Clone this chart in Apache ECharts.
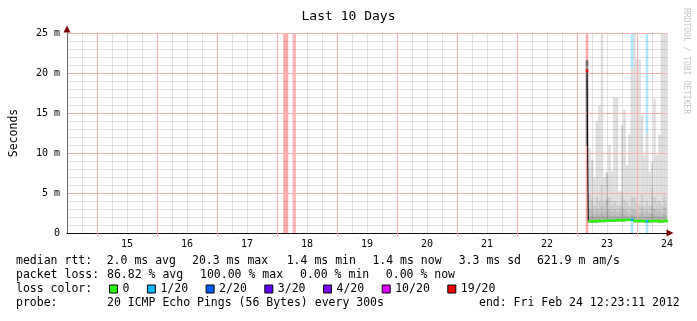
<!DOCTYPE html>
<html><head><meta charset="utf-8">
<script src="https://cdn.jsdelivr.net/npm/echarts@6/dist/echarts.min.js"></script>
<style>html,body{margin:0;padding:0;background:#fff}#c{width:697px;height:321px}</style>
</head><body><div id="c"></div>
<script>
// ---- axis / tick data (hours since Feb 14 00:00) ----
const dayLabels = ['15','16','17','18','19','20','21','22','23','24'];
const dayLabelHours = [36,60,84,108,132,156,180,204,228,252];
const midnightHours = [24,48,72,96,120,144,168,192,216,240];
const yTickLabels = ['0','5 m','10 m','15 m','20 m','25 m'];

// ---- loss colour legend ----
const lossLabels = ['0','1/20','2/20','3/20','4/20','10/20','19/20'];
const lossThresholds = [0,1,2,3,4,10,19];
const lossColors = ['#26ff00','#00b8ff','#0059ff','#5e00ff','#7e00ff','#dd00ff','#ff0000'];

// ---- loss background bands ----
const lossBandHours = [99,100,103,220,238,244];
const lossBandLevels = [20,20,20,19,1,1];

// ---- smoke (ms) ----
const smokeHours = [221,222,223,224,225,226,227,228,229,230,231,232,233,234,235,236,237,238,239,240,241,242,243,244,245,246,247,248,249,250,251,252];
const smokeMin  = [1.3,1.3,1.3,1.3,1.35,1.35,1.35,1.4,1.4,1.4,1.4,1.45,1.45,1.45,1.45,1.5,1.5,1.5,1.35,1.35,1.35,1.35,1.3,1.3,1.3,1.35,1.35,1.35,1.3,1.3,1.35,1.35];
const smokeP50  = [2.2,2.1,2.0,2.2,2.1,2.4,2.1,2.6,2.2,2.0,2.2,2.0,2.1,2.4,2.2,2.1,2.0,2.2,2.2,2.1,2.0,2.3,2.0,2.1,2.0,2.4,2.2,2.0,2.1,2.0,2.3,2.1];
const smokeP60  = [3.0,2.8,2.5,3.0,2.7,3.4,2.8,4.2,3.0,2.6,2.9,2.5,2.7,3.3,2.9,2.7,2.5,3.0,2.9,2.7,2.5,3.2,2.6,2.8,2.5,3.4,3.0,2.6,2.8,2.5,3.2,2.7];
const smokeP75  = [5.0,4.2,3.5,4.5,4.0,6.0,3.8,7.5,4.5,3.5,4.0,3.5,3.5,5.2,4.2,3.8,3.4,4.5,4.5,3.8,3.5,4.8,3.4,4.0,3.5,5.6,4.5,3.6,4.0,3.5,5.0,3.8];
const smokeMax  = [10.6,9.1,7.0,14.0,15.9,25,7.0,7.6,11.0,7.7,16.9,16.9,5.2,13.5,15.4,8.5,12.3,20.6,25,21.7,21.7,14.7,9.75,12.5,7.7,8.9,16.8,9.75,12.3,25,25,25];
// first sample after the outage
const spikeHours = [220];
const spikeLow = [10.9];
const spikeMid = [21.0];
const spikeHigh = [21.6];

// ---- median rtt (ms) and loss (pings out of 20) ----
const medianHours = [220,221,222,223,224,225,226,227,228,229,230,231,232,233,234,235,236,237,238,239,240,241,242,243,244,245,246,247,248,249,250,251,252];
const medianValues = [20.3,1.45,1.45,1.45,1.5,1.5,1.5,1.5,1.55,1.55,1.55,1.55,1.6,1.6,1.6,1.6,1.65,1.65,1.65,1.5,1.5,1.5,1.5,1.45,1.45,1.45,1.5,1.5,1.5,1.45,1.45,1.5,1.5];
const medianLoss = [19,0,0,0,0,0,0,0,0,0,0,0,0,0,0,0,0,0,1,0,0,0,0,0,1,0,0,0,0,0,0,0,0];

// ---- legend text ----
const rttStats = ['2.0 ms avg','20.3 ms max','1.4 ms min','1.4 ms now','3.3 ms sd','621.9 m am/s'];
const lossStats = ['86.82 % avg','100.00 % max','0.00 % min','0.00 % now'];
const probeText = '20 ICMP Echo Pings (56 Bytes) every 300s';
const endText = 'end: Fri Feb 24 12:23:11 2012';

const MONO = '"DejaVu Sans Mono", monospace';
const smokeColors = ['#dddddd','#cdcdcd','#bdbdbd','#adadad'];
const spikeColors = ['#8c8c8c','#666666'];
const GRAY_GRID = 'rgba(0,0,0,0.11)';
const RED_GRID = '#f6b0b0';

function bucketOf(loss){ let b=0; for(let i=0;i<lossThresholds.length;i++){ if(loss>=lossThresholds[i]) b=i; } return b; }

function rect(params, api, h, lo, hi, fill){
  const p0 = api.coord([h-0.5, hi]);
  const p1 = api.coord([h+0.5, lo]);
  const cs = params.coordSys;
  const shape = echarts.graphic.clipRectByRect(
    {x:p0[0], y:p0[1], width:p1[0]-p0[0], height:p1[1]-p0[1]},
    {x:cs.x, y:cs.y, width:cs.width, height:cs.height});
  return shape && {type:'rect', shape:shape, style:{fill:fill}};
}

const smokeItems = [];
smokeHours.forEach((h,i)=>smokeItems.push([h, smokeMin[i], smokeMax[i], 0]));
smokeHours.forEach((h,i)=>smokeItems.push([h, smokeMin[i], smokeP75[i], 1]));
smokeHours.forEach((h,i)=>smokeItems.push([h, smokeMin[i], smokeP60[i], 2]));
smokeHours.forEach((h,i)=>smokeItems.push([h, smokeMin[i], smokeP50[i], 3]));
const spikeItems = [];
spikeHours.forEach((h,i)=>{ spikeItems.push([h, spikeLow[i], spikeMid[i], 0]); spikeItems.push([h, spikeMid[i], spikeHigh[i], 1]); });

const bandItems = lossBandHours.map((h,i)=>[h, lossBandLevels[i]]);

const medianSeries = lossLabels.map((name, b)=>({
  name: name, type:'custom', z:5,
  itemStyle:{color:lossColors[b]},
  data: medianHours.map((h,i)=>[h, medianValues[i], medianLoss[i]]).filter(d=>bucketOf(d[2])===b),
  renderItem:(params, api)=>{
    const h = api.value(0), m = api.value(1);
    const a = api.coord([h-0.5, m]), c = api.coord([h+0.5, m]);
    return {type:'line', shape:{x1:a[0], y1:a[1], x2:c[0], y2:c[1]}, style:{stroke:lossColors[b], lineWidth:2.5}};
  }
}));

const chart = echarts.init(document.getElementById('c'), null, {renderer:'canvas'});
chart.setOption({
  animation:false,
  backgroundColor:'#ffffff',
  title:{text:'Last 10 Days', left:'center', top:10, padding:0,
    textStyle:{fontFamily:MONO, fontSize:13, fontWeight:'normal', color:'#000'}},
  grid:{left:67, right:30, top:33, bottom:88, containLabel:false, outerBoundsMode:'none'},
  legend:{
    data:lossLabels, left:109, top:282, padding:0, icon:'rect',
    itemWidth:8, itemHeight:8, itemGap:17.5, selectedMode:false,
    itemStyle:{borderColor:'#000', borderWidth:1},
    textStyle:{fontFamily:MONO, fontSize:11.5, color:'#000', lineHeight:14}
  },
  xAxis:[{
    type:'value', min:12, max:252, interval:6, z:3,
    axisLine:{show:true, onZero:false, lineStyle:{color:'#111', width:1}},
    axisTick:{show:false},
    axisLabel:{interval:0, showMinLabel:false, showMaxLabel:true, hideOverlap:false, margin:6,
      fontFamily:MONO, fontSize:10, color:'#000',
      formatter:(v)=>{ const i = dayLabelHours.indexOf(v); return i>=0 ? dayLabels[i] : ''; }},
    splitLine:{show:true, lineStyle:{color:GRAY_GRID, width:1}}
  },{
    type:'value', min:12, max:252, position:'bottom', z:2,
    axisLine:{show:true, onZero:false, symbol:['none','triangle'], symbolSize:[7,7], symbolOffset:[0,3],
      lineStyle:{color:'#7f0000', width:1}},
    axisTick:{show:false}, axisLabel:{show:false}, splitLine:{show:false}
  }],
  yAxis:[{
    type:'value', min:0, max:25, interval:5, z:3,
    axisLine:{show:true, onZero:false, lineStyle:{color:'#666', width:1}},
    axisTick:{show:false},
    axisLabel:{margin:7, fontFamily:MONO, fontSize:10, color:'#000',
      formatter:(v)=>yTickLabels[Math.round(v/5)]},
    splitLine:{show:true, lineStyle:{color:RED_GRID, width:1}},
    minorTick:{show:false, splitNumber:5},
    minorSplitLine:{show:true, lineStyle:{color:GRAY_GRID, width:1}},
    name:'Seconds', nameLocation:'middle', nameGap:47, nameRotate:90,
    nameTextStyle:{fontFamily:MONO, fontSize:11.5, color:'#000'}
  },{
    type:'value', min:0, max:25, position:'left', offset:0, z:2,
    axisLine:{show:true, onZero:false, symbol:['none','triangle'], symbolSize:[7,7], symbolOffset:[0,4],
      lineStyle:{color:'#7f0000', width:1}},
    axisTick:{show:false}, axisLabel:{show:false}, splitLine:{show:false}
  }],
  series:[
    {type:'custom', z:1, silent:true, data:bandItems,
      renderItem:(params, api)=>{
        const b = bucketOf(api.value(1));
        return rect(params, api, api.value(0), 0, 25, echarts.color.modifyAlpha(lossColors[b], 0.33));
      }},
    {type:'custom', z:2, silent:true, data:smokeItems,
      renderItem:(params, api)=>rect(params, api, api.value(0), api.value(1), api.value(2), smokeColors[api.value(3)])},
    {type:'custom', z:2, silent:true, data:spikeItems,
      renderItem:(params, api)=>rect(params, api, api.value(0), api.value(1), api.value(2), spikeColors[api.value(3)])},
    {type:'line', z:4, silent:true, step:'middle', symbol:'none',
      data:medianHours.map((h,i)=>[h, medianValues[i]]),
      lineStyle:{color:'#000', width:1}},
    {type:'custom', z:4, silent:true, clip:false, data:midnightHours.map(h=>[h]),
      renderItem:(params, api)=>{
        const top = api.coord([api.value(0), 25]);
        const bot = api.coord([api.value(0), 0]);
        const x = Math.round(top[0]) + 0.5;
        return {type:'line', shape:{x1:x, y1:top[1], x2:x, y2:bot[1]+4}, style:{stroke:RED_GRID, lineWidth:1}};
      }}
  ].concat(medianSeries),
  graphic:[
    {type:'text', x:16, y:261.5, style:{text:'median rtt:', font:'11.5px '+MONO, fill:'#000', verticalAlign:'middle'}},
    {type:'text', x:106.7, y:261.5, style:{text:rttStats[0], font:'11.5px '+MONO, fill:'#000', verticalAlign:'middle'}},
    {type:'text', x:192, y:261.5, style:{text:rttStats[1], font:'11.5px '+MONO, fill:'#000', verticalAlign:'middle'}},
    {type:'text', x:286.7, y:261.5, style:{text:rttStats[2], font:'11.5px '+MONO, fill:'#000', verticalAlign:'middle'}},
    {type:'text', x:372.4, y:261.5, style:{text:rttStats[3], font:'11.5px '+MONO, fill:'#000', verticalAlign:'middle'}},
    {type:'text', x:458.7, y:261.5, style:{text:rttStats[4], font:'11.5px '+MONO, fill:'#000', verticalAlign:'middle'}},
    {type:'text', x:536.9, y:261.5, style:{text:rttStats[5], font:'11.5px '+MONO, fill:'#000', verticalAlign:'middle'}},
    {type:'text', x:16, y:275, style:{text:'packet loss:', font:'11.5px '+MONO, fill:'#000', verticalAlign:'middle'}},
    {type:'text', x:107, y:275, style:{text:lossStats[0], font:'11.5px '+MONO, fill:'#000', verticalAlign:'middle'}},
    {type:'text', x:200, y:275, style:{text:lossStats[1], font:'11.5px '+MONO, fill:'#000', verticalAlign:'middle'}},
    {type:'text', x:300, y:275, style:{text:lossStats[2], font:'11.5px '+MONO, fill:'#000', verticalAlign:'middle'}},
    {type:'text', x:385.8, y:275, style:{text:lossStats[3], font:'11.5px '+MONO, fill:'#000', verticalAlign:'middle'}},
    {type:'text', x:16, y:289, style:{text:'loss color:', font:'11.5px '+MONO, fill:'#000', verticalAlign:'middle'}},
    {type:'text', x:16, y:303, style:{text:'probe:', font:'11.5px '+MONO, fill:'#000', verticalAlign:'middle'}},
    {type:'text', x:107, y:303, style:{text:probeText, font:'11.5px '+MONO, fill:'#000', verticalAlign:'middle'}},
    {type:'text', x:479, y:303, style:{text:endText, font:'11.5px '+MONO, fill:'#000', verticalAlign:'middle'}},
    {type:'text', x:686, y:8, rotation:-Math.PI/2, style:{text:'RRDTOOL / TOBI OETIKER', font:'8px '+MONO, fill:'#c4c4c4', verticalAlign:'middle'}}
  ]
});
</script></body></html>
